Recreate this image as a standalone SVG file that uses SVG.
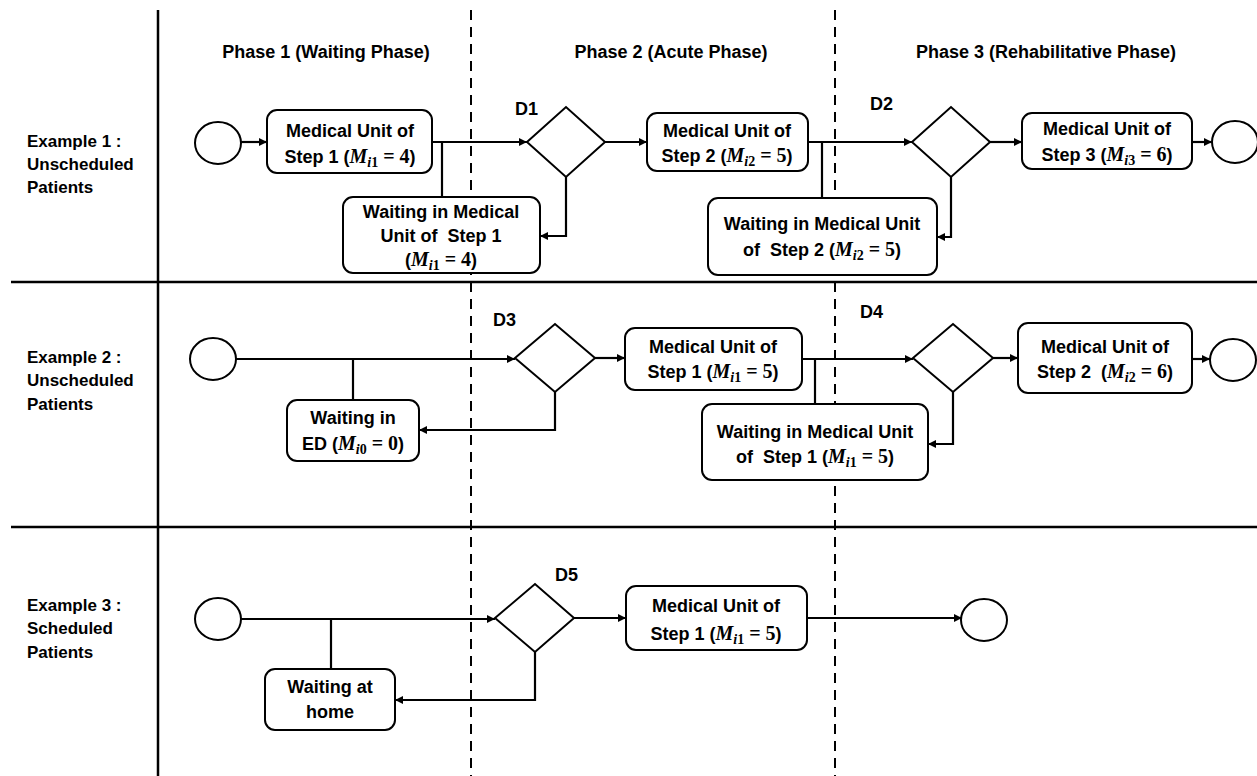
<svg xmlns="http://www.w3.org/2000/svg" width="1257" height="776" viewBox="0 0 1257 776">
<style>
.t{font-family:"Liberation Sans",Arial,sans-serif;font-weight:bold;font-size:18px;fill:#000;text-anchor:middle}
.ex{font-family:"Liberation Sans",Arial,sans-serif;font-weight:bold;font-size:17px;fill:#000}
.d{font-family:"Liberation Sans",Arial,sans-serif;font-weight:bold;font-size:18px;fill:#000}
.mi{font-family:"Liberation Serif","DejaVu Serif",serif;font-style:italic;font-weight:bold;font-size:20px}
.mn{font-family:"Liberation Serif","DejaVu Serif",serif;font-weight:bold;font-size:20px}
.s{font-size:14px}
.box{fill:#fff;stroke:#000;stroke-width:2}
.dia{fill:#fff;stroke:#000;stroke-width:2}
.circ{fill:#fff;stroke:#000;stroke-width:2}
.c{fill:none;stroke:#000;stroke-width:2.2}
.ca{fill:none;stroke:#000;stroke-width:2.2;marker-end:url(#arr)}
.sep{stroke:#000;stroke-width:2.5}
.dash{stroke:#000;stroke-width:2;stroke-dasharray:10 7}
</style>
<defs>
<marker id="arr" viewBox="0 0 10 10" refX="10" refY="5" markerWidth="9" markerHeight="8" markerUnits="userSpaceOnUse" orient="auto">
<path d="M0,0 L10,5 L0,10 z" fill="#000"/>
</marker>
</defs>
<rect width="1257" height="776" fill="#fff"/>
<g id="grid">
<line class="sep" x1="158" y1="10" x2="158" y2="776"/>
<line class="sep" x1="11" y1="282" x2="1257" y2="282"/>
<line class="sep" x1="11" y1="527" x2="1257" y2="527"/>
<line class="dash" x1="471" y1="10" x2="471" y2="776"/>
<line class="dash" x1="835" y1="10" x2="835" y2="776"/>
</g>
<g id="headers">
<text class="t" x="326" y="58">Phase 1 (Waiting Phase)</text>
<text class="t" x="671" y="58">Phase 2 (Acute Phase)</text>
<text class="t" x="1046" y="58">Phase 3 (Rehabilitative Phase)</text>
<text class="ex" x="27" y="147">Example 1 :</text>
<text class="ex" x="27" y="170">Unscheduled</text>
<text class="ex" x="27" y="193">Patients</text>
<text class="ex" x="27" y="363">Example 2 :</text>
<text class="ex" x="27" y="386">Unscheduled</text>
<text class="ex" x="27" y="410">Patients</text>
<text class="ex" x="27" y="611">Example 3 :</text>
<text class="ex" x="27" y="634">Scheduled</text>
<text class="ex" x="27" y="658">Patients</text>
</g>
<g id="connectors">
<path class="ca" d="M241,142 H267"/>
<path class="ca" d="M432,142 H527"/>
<path class="c" d="M442,142 V197"/>
<path class="ca" d="M566,177 V236 H540"/>
<path class="ca" d="M605,142 H647"/>
<path class="ca" d="M808,142 H912"/>
<path class="c" d="M822,142 V198"/>
<path class="ca" d="M951,177 V237 H937"/>
<path class="ca" d="M990,142 H1022"/>
<path class="ca" d="M1192,142 H1212"/>
<path class="ca" d="M236,359 H515"/>
<path class="c" d="M353,359 V400"/>
<path class="ca" d="M555,392 V430 H419"/>
<path class="ca" d="M595,358 H625"/>
<path class="ca" d="M802,359 H913"/>
<path class="c" d="M815,359 V404"/>
<path class="ca" d="M953,392 V444 H928"/>
<path class="ca" d="M993,358 H1018"/>
<path class="ca" d="M1192,359 H1210"/>
<path class="ca" d="M241,619 H495"/>
<path class="c" d="M331,619 V669"/>
<path class="ca" d="M535,652 V700 H395"/>
<path class="ca" d="M574,618 H626"/>
<path class="ca" d="M807,618 H962"/>
</g>
<g id="start1"><ellipse class="circ" cx="218" cy="143" rx="23" ry="21"/></g>
<g id="mu1">
<rect class="box" x="267" y="110" width="165" height="63" rx="10"/>
<text class="t" x="350" y="137">Medical Unit of</text>
<text class="t" x="350" y="163">Step 1 (<tspan class="mi">M</tspan><tspan class="mi s" dy="4">i</tspan><tspan class="mn s">1</tspan><tspan class="mn" dy="-4"> = 4</tspan>)</text>
</g>
<g id="w1">
<rect class="box" x="343" y="197" width="197" height="76" rx="10"/>
<text class="t" x="441" y="218">Waiting in Medical</text>
<text class="t" x="441" y="242" xml:space="preserve">Unit of  Step 1</text>
<text class="t" x="441" y="266">(<tspan class="mi">M</tspan><tspan class="mi s" dy="4">i</tspan><tspan class="mn s">1</tspan><tspan class="mn" dy="-4"> = 4</tspan>)</text>
</g>
<g id="d1">
<polygon class="dia" points="527,142 566,107 605,142 566,177"/>
<text class="d" x="515" y="115">D1</text>
</g>
<g id="mu2">
<rect class="box" x="647" y="113" width="161" height="58" rx="10"/>
<text class="t" x="727" y="137">Medical Unit of</text>
<text class="t" x="727" y="162">Step 2 (<tspan class="mi">M</tspan><tspan class="mi s" dy="4">i</tspan><tspan class="mn s">2</tspan><tspan class="mn" dy="-4"> = 5</tspan>)</text>
</g>
<g id="w2">
<rect class="box" x="708" y="198" width="229" height="77" rx="10"/>
<text class="t" x="822" y="230">Waiting in Medical Unit</text>
<text class="t" x="822" y="256" xml:space="preserve">of  Step 2 (<tspan class="mi">M</tspan><tspan class="mi s" dy="4">i</tspan><tspan class="mn s">2</tspan><tspan class="mn" dy="-4"> = 5</tspan>)</text>
</g>
<g id="d2">
<polygon class="dia" points="912,142 951,107 990,142 951,177"/>
<text class="d" x="870" y="110">D2</text>
</g>
<g id="mu3">
<rect class="box" x="1022" y="113" width="170" height="56" rx="10"/>
<text class="t" x="1107" y="135">Medical Unit of</text>
<text class="t" x="1107" y="161">Step 3 (<tspan class="mi">M</tspan><tspan class="mi s" dy="4">i</tspan><tspan class="mn s">3</tspan><tspan class="mn" dy="-4"> = 6</tspan>)</text>
</g>
<g id="end1"><ellipse class="circ" cx="1235" cy="142" rx="23" ry="21"/></g>

<g id="start2"><ellipse class="circ" cx="213" cy="359" rx="23" ry="21"/></g>
<g id="wed">
<rect class="box" x="287" y="400" width="132" height="61" rx="10"/>
<text class="t" x="353" y="424">Waiting in</text>
<text class="t" x="353" y="450">ED (<tspan class="mi">M</tspan><tspan class="mi s" dy="4">i</tspan><tspan class="mn s">0</tspan><tspan class="mn" dy="-4"> = 0</tspan>)</text>
</g>
<g id="d3">
<polygon class="dia" points="515,358 555,324 595,358 555,392"/>
<text class="d" x="493" y="326">D3</text>
</g>
<g id="mu21">
<rect class="box" x="625" y="328" width="177" height="62" rx="10"/>
<text class="t" x="713" y="353">Medical Unit of</text>
<text class="t" x="713" y="378">Step 1 (<tspan class="mi">M</tspan><tspan class="mi s" dy="4">i</tspan><tspan class="mn s">1</tspan><tspan class="mn" dy="-4"> = 5</tspan>)</text>
</g>
<g id="w21">
<rect class="box" x="702" y="404" width="226" height="76" rx="10"/>
<text class="t" x="815" y="438">Waiting in Medical Unit</text>
<text class="t" x="815" y="463" xml:space="preserve">of  Step 1 (<tspan class="mi">M</tspan><tspan class="mi s" dy="4">i</tspan><tspan class="mn s">1</tspan><tspan class="mn" dy="-4"> = 5</tspan>)</text>
</g>
<g id="d4">
<polygon class="dia" points="913,358 953,324 993,358 953,392"/>
<text class="d" x="860" y="318">D4</text>
</g>
<g id="mu22">
<rect class="box" x="1018" y="323" width="174" height="70" rx="10"/>
<text class="t" x="1105" y="353">Medical Unit of</text>
<text class="t" x="1105" y="378" xml:space="preserve">Step 2  (<tspan class="mi">M</tspan><tspan class="mi s" dy="4">i</tspan><tspan class="mn s">2</tspan><tspan class="mn" dy="-4"> = 6</tspan>)</text>
</g>
<g id="end2"><ellipse class="circ" cx="1233" cy="360" rx="23" ry="21"/></g>

<g id="start3"><ellipse class="circ" cx="218" cy="619" rx="23" ry="21"/></g>
<g id="whome">
<rect class="box" x="265" y="669" width="130" height="61" rx="10"/>
<text class="t" x="330" y="693">Waiting at</text>
<text class="t" x="330" y="718">home</text>
</g>
<g id="d5">
<polygon class="dia" points="495,618 535,584 574,618 535,652"/>
<text class="d" x="555" y="581">D5</text>
</g>
<g id="mu31">
<rect class="box" x="626" y="586" width="181" height="64" rx="10"/>
<text class="t" x="716" y="612">Medical Unit of</text>
<text class="t" x="716" y="640">Step 1 (<tspan class="mi">M</tspan><tspan class="mi s" dy="4">i</tspan><tspan class="mn s">1</tspan><tspan class="mn" dy="-4"> = 5</tspan>)</text>
</g>
<g id="end3"><ellipse class="circ" cx="984" cy="620" rx="23" ry="21"/></g>
</svg>
